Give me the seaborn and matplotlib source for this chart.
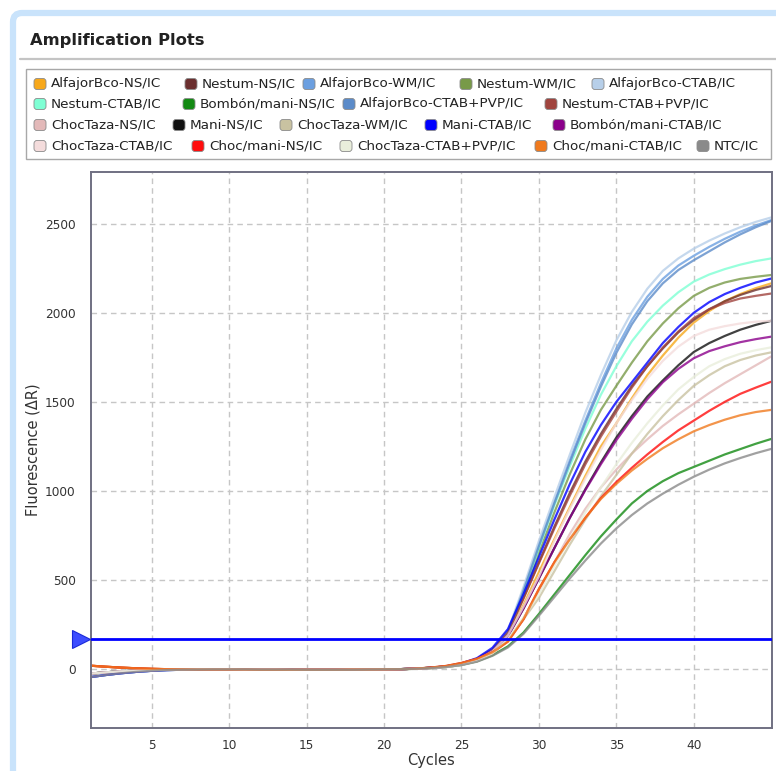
import matplotlib
matplotlib.use("Agg")
import matplotlib.pyplot as plt
import matplotlib.transforms as mtransforms
from matplotlib.patches import FancyBboxPatch, Rectangle
from matplotlib.lines import Line2D
import seaborn as sns
import pandas as pd

# ---------------- data ----------------
cycles = list(range(1, 46))

# baseline readings, cycles 1..21
base_high = [20, 14, 9, 5, 2, 0, -1, -2, -2, -2, -2, -3, -3, -3, -3, -3, -3, -2, -2, -1, 0]
base_mid = [-25, -18, -12, -8, -5, -3, -2, -1, -1, -1, -2, -2, -2, -3, -3, -3, -3, -2, -2, -1, 0]
base_low = [-45, -33, -23, -15, -9, -5, -3, -2, -1, -1, -1, -2, -2, -2, -3, -3, -3, -3, -2, -1, 0]

# readings, cycles 22..45
alfajor_ns = [3, 8, 15, 30, 55, 100, 190, 360, 545, 730, 910, 1085, 1250, 1380, 1520, 1650, 1760, 1860, 1945, 2010, 2065, 2105, 2138, 2165]
nestum_ns = [3, 8, 15, 31, 58, 110, 210, 400, 600, 800, 990, 1165, 1320, 1460, 1590, 1700, 1800, 1890, 1960, 2020, 2065, 2100, 2128, 2150]
alfajor_wm = [3, 8, 16, 32, 57, 105, 212, 445, 700, 940, 1175, 1395, 1605, 1800, 1960, 2090, 2190, 2265, 2320, 2370, 2415, 2455, 2490, 2520]
nestum_wm = [3, 8, 15, 30, 54, 100, 200, 415, 650, 880, 1095, 1290, 1455, 1590, 1720, 1840, 1940, 2025, 2095, 2140, 2170, 2190, 2202, 2212]
alfajor_ctab = [3, 8, 16, 32, 58, 108, 218, 460, 720, 965, 1205, 1440, 1650, 1845, 2005, 2135, 2235, 2305, 2360, 2405, 2445, 2480, 2510, 2535]
nestum_ctab = [3, 8, 16, 31, 55, 102, 205, 430, 680, 920, 1140, 1350, 1540, 1700, 1840, 1950, 2040, 2115, 2175, 2215, 2245, 2270, 2290, 2305]
bombon_ns = [2, 6, 12, 24, 44, 78, 128, 205, 310, 420, 530, 640, 745, 840, 930, 1000, 1055, 1100, 1135, 1170, 1205, 1235, 1265, 1292]
alfajor_pvp = [3, 8, 16, 31, 56, 103, 208, 438, 690, 930, 1160, 1380, 1585, 1775, 1935, 2065, 2165, 2240, 2295, 2345, 2395, 2440, 2480, 2515]
nestum_pvp = [3, 8, 15, 30, 57, 108, 205, 395, 595, 790, 975, 1150, 1305, 1445, 1580, 1700, 1805, 1895, 1970, 2020, 2055, 2080, 2095, 2108]
choctaza_ns = [2, 6, 12, 25, 46, 88, 160, 280, 440, 600, 760, 900, 1020, 1120, 1210, 1290, 1365, 1430, 1490, 1550, 1605, 1655, 1705, 1755]
mani_ns = [3, 7, 14, 28, 52, 100, 185, 340, 510, 680, 850, 1010, 1160, 1300, 1420, 1530, 1620, 1705, 1780, 1830, 1870, 1905, 1932, 1955]
choctaza_wm = [2, 6, 12, 25, 46, 88, 165, 280, 400, 550, 700, 840, 970, 1090, 1210, 1320, 1420, 1510, 1590, 1650, 1700, 1735, 1760, 1778]
mani_ctab = [3, 8, 16, 33, 62, 120, 225, 420, 630, 840, 1040, 1220, 1370, 1500, 1610, 1720, 1830, 1920, 2000, 2060, 2105, 2140, 2170, 2192]
bombon_ctab = [3, 7, 14, 28, 52, 100, 185, 340, 510, 680, 850, 1005, 1150, 1285, 1405, 1515, 1610, 1685, 1745, 1785, 1812, 1835, 1852, 1866]
choctaza_ctab = [3, 7, 14, 28, 52, 100, 190, 350, 520, 720, 900, 1070, 1230, 1380, 1510, 1630, 1730, 1810, 1870, 1905, 1925, 1940, 1950, 1955]
chocmani_ns = [3, 9, 18, 35, 58, 95, 155, 280, 450, 600, 730, 850, 960, 1050, 1130, 1205, 1275, 1340, 1395, 1450, 1500, 1545, 1580, 1613]
choctaza_pvp = [2, 6, 12, 25, 47, 90, 170, 290, 420, 580, 730, 880, 1020, 1150, 1270, 1380, 1480, 1570, 1640, 1700, 1740, 1770, 1790, 1806]
chocmani_ctab = [3, 9, 18, 35, 58, 95, 155, 280, 450, 600, 730, 850, 955, 1040, 1115, 1180, 1240, 1290, 1335, 1370, 1400, 1425, 1443, 1455]
ntc = [2, 6, 12, 23, 42, 75, 122, 198, 300, 405, 510, 610, 705, 790, 865, 930, 985, 1035, 1080, 1120, 1155, 1185, 1212, 1236]

samples = ["AlfajorBco-NS/IC", "Nestum-NS/IC", "AlfajorBco-WM/IC", "Nestum-WM/IC", "AlfajorBco-CTAB/IC",
           "Nestum-CTAB/IC", "Bombón/mani-NS/IC", "AlfajorBco-CTAB+PVP/IC", "Nestum-CTAB+PVP/IC",
           "ChocTaza-NS/IC", "Mani-NS/IC", "ChocTaza-WM/IC", "Mani-CTAB/IC", "Bombón/mani-CTAB/IC",
           "ChocTaza-CTAB/IC", "Choc/mani-NS/IC", "ChocTaza-CTAB+PVP/IC", "Choc/mani-CTAB/IC", "NTC/IC"]
curves = [base_high + alfajor_ns, base_mid + nestum_ns, base_low + alfajor_wm, base_mid + nestum_wm,
          base_low + alfajor_ctab, base_mid + nestum_ctab, base_mid + bombon_ns, base_low + alfajor_pvp,
          base_high + nestum_pvp, base_mid + choctaza_ns, base_mid + mani_ns, base_mid + choctaza_wm,
          base_low + mani_ctab, base_mid + bombon_ctab, base_mid + choctaza_ctab, base_high + chocmani_ns,
          base_mid + choctaza_pvp, base_high + chocmani_ctab, base_low + ntc]
colors = ["#f7a81b", "#6b2f2f", "#6b9fe0", "#789a48", "#b7cfe9", "#7fffd4", "#138a13", "#5b8bc9", "#a0443e",
          "#e3b9b9", "#111111", "#c9c2a1", "#0000ff", "#8b008b", "#f4dcdc", "#ff0d0d", "#e9eedb", "#f07a1e",
          "#8a8a8a"]
threshold = 168
x_ticks = [5, 10, 15, 20, 25, 30, 35, 40]
y_ticks = [0, 500, 1000, 1500, 2000, 2500]

rows = []
for name, vals in zip(samples, curves):
    for c, v in zip(cycles, vals):
        rows.append({"Cycle": c, "Fluorescence": v, "Sample": name})
df = pd.DataFrame(rows)
palette = dict(zip(samples, colors))

# ---------------- figure ----------------
sns.set_style("white")
plt.rcParams["font.family"] = ["DejaVu Sans"]

W, H = 776, 771
fig = plt.figure(figsize=(W / 100, H / 100), dpi=100)
ident = mtransforms.IdentityTransform()

# outer panel (light blue border), drawn below everything
fig.patches.append(FancyBboxPatch((13, -40), 900, H - 13 + 40, boxstyle="round,pad=0,rounding_size=9",
                                  transform=ident, facecolor="white", edgecolor="#c9e3fb", linewidth=4.5,
                                  zorder=-10))
fig.text(30 / W, 1 - 40 / H, "Amplification Plots", fontsize=11.8, fontweight="bold", color="#222222",
         va="center", ha="left")
fig.lines.append(Line2D([20, W], [H - 59, H - 59], transform=ident, color="#c4c4c4", lw=1.6))

# legend box
fig.patches.append(Rectangle((26, H - 159), 745, 90, transform=ident, facecolor="white",
                             edgecolor="#a8a8a8", linewidth=1.0, zorder=-5))
legend_rows = [[0, 1, 2, 3, 4], [5, 6, 7, 8], [9, 10, 11, 12, 13], [14, 15, 16, 17, 18]]
legend_x = [[34, 185, 303, 460, 592], [34, 183, 343, 545], [34, 173, 280, 425, 553], [34, 192, 340, 535, 697]]
legend_y = [84, 104, 125, 146]
for r, idxs in enumerate(legend_rows):
    for k, i in enumerate(idxs):
        x0 = legend_x[r][k]
        y0 = legend_y[r]
        fig.patches.append(FancyBboxPatch((x0, H - y0 - 5.5), 12, 11, boxstyle="round,pad=0,rounding_size=3",
                                          transform=ident, facecolor=colors[i], edgecolor="#8a8a8a",
                                          linewidth=0.6))
        fig.text((x0 + 17) / W, 1 - y0 / H, samples[i], fontsize=9.7, color="#222222", va="center", ha="left")

# axes
ax = fig.add_axes([91 / W, (H - 728) / H, 681 / W, 556 / H])
ax.set_zorder(2)
sns.lineplot(data=df, x="Cycle", y="Fluorescence", hue="Sample", hue_order=samples, palette=palette,
             legend=False, linewidth=1.6, alpha=0.8, estimator=None, sort=False, ax=ax)
ax.axhline(threshold, color="#0000ff", lw=2.0, zorder=5)
ax.plot([-0.0147], [threshold], marker=">", ms=13.5, color="#3d4dff", mec="#1a2ad8", mew=0.8,
        transform=ax.get_yaxis_transform(), clip_on=False, zorder=6)

ax.set_xlim(1.08, 45.05)
ax.set_ylim(-330, 2790)
ax.set_xticks(x_ticks)
ax.set_yticks(y_ticks)
ax.grid(True, linestyle=(0, (4, 3)), color="#c6c6c6", linewidth=1.0)
ax.set_axisbelow(True)
ax.tick_params(axis="both", length=0, labelsize=8.7, colors="#333333")
ax.tick_params(axis="y", pad=11)
ax.tick_params(axis="x", pad=8)
for s in ax.spines.values():
    s.set_color("#707082")
    s.set_linewidth(1.4)
ax.set_xlabel("Cycles", fontsize=10.5, color="#333333", labelpad=1)
ax.set_ylabel("Fluorescence (ΔR)", fontsize=10.5, color="#333333", labelpad=3)

fig.savefig("out.png", dpi=100)
